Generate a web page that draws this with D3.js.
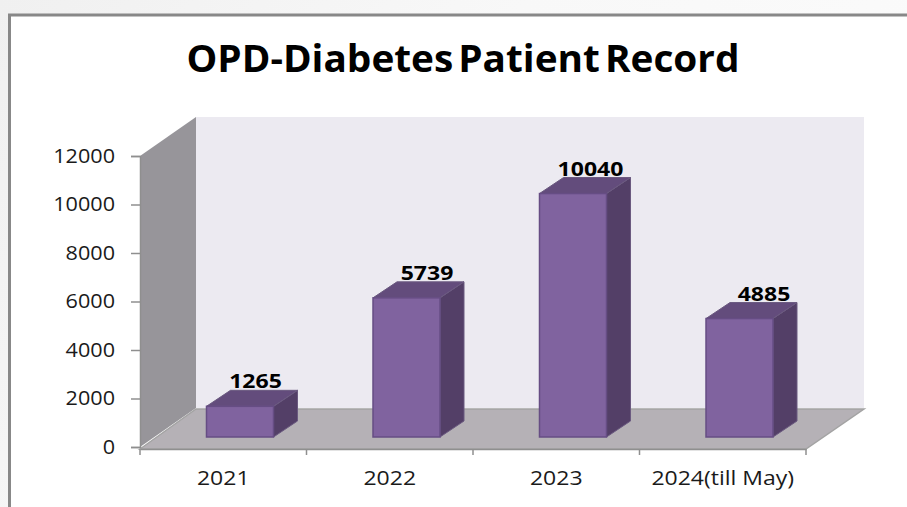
<!DOCTYPE html>
<html lang="en">
<head>
<meta charset="UTF-8">
<title>OPD-Diabetes Patient Record</title>
<style>
    html, body { margin: 0; padding: 0; background: #fff; overflow: hidden; }
    svg { display: block; }
    text { fill: #1a1a1a; }
</style>
</head>
<body>
<div id="chart"></div>
<script src="https://d3js.org/d3.v7.min.js"></script>
<script>
const categories = ["2021", "2022", "2023", "2024(till May)"];
const patients = [1265, 5739, 10040, 4885];
const valueTicks = [0, 2000, 4000, 6000, 8000, 10000, 12000];
const chartTitle = "OPD-Diabetes Patient Record";

const W = 907, H = 507;
const FONT = "'Open Sans', sans-serif";
const svg = d3.select("#chart").append("svg").attr("width", W).attr("height", H);

// the reference text is wider than any installed font, so stretch it
function stretch(sel, k) {
    sel.each(function () {
        d3.select(this).attr("textLength", this.getComputedTextLength() * k)
            .attr("lengthAdjust", "spacingAndGlyphs");
    });
}

// page background and frame
const defs = svg.append("defs");
const bg = defs.append("linearGradient").attr("id", "bg").attr("x1", 0).attr("y1", 0).attr("x2", 1).attr("y2", 0.4);
bg.append("stop").attr("offset", "0%").attr("stop-color", "#f0f0f0");
bg.append("stop").attr("offset", "50%").attr("stop-color", "#f8f8f8");
bg.append("stop").attr("offset", "100%").attr("stop-color", "#fbfbfb");
svg.append("rect").attr("width", W).attr("height", H).attr("fill", "url(#bg)");
svg.append("rect").attr("x", 9.5).attr("y", 15).attr("width", W).attr("height", H)
    .attr("fill", "#fff").attr("stroke", "#888").attr("stroke-width", 3);

svg.append("text").attr("x", 463).attr("y", 72).attr("text-anchor", "middle")
    .attr("font-family", FONT).attr("font-weight", 700)
    .attr("font-size", 38).attr("word-spacing", -5).attr("textLength", 553).attr("lengthAdjust", "spacingAndGlyphs")
    .style("fill", "#000").text(chartTitle);

// scales for the front plane of the 3D box
const x = d3.scaleBand().domain(categories).range([140, 806]);
const y = d3.scaleLinear().domain([0, 12000]).range([447, 156]);
const depthX = 56, depthY = -39;      // wall offset
const barDepthX = 24, barDepthY = -16; // bar offset
const barW = 67, barInset = 66.5, barLift = 10;
const labelNudge = [49, 54, 51, 58];  // data labels are not centred evenly

const poly = pts => pts.map(p => p.join(",")).join(" ");
const [x0, x1] = x.range();
const yTop = y(12000), yBase = y(0);

// back wall, side wall, floor
svg.append("polygon").attr("fill", "#eceaf1")
    .attr("points", poly([[x0 + depthX, yTop + depthY], [x1 + depthX + 2, yTop + depthY], [x1 + depthX + 2, yBase + depthY], [x0 + depthX, yBase + depthY]]));
svg.append("polygon").attr("fill", "#97959a")
    .attr("points", poly([[x0, yTop], [x0 + depthX, yTop + depthY], [x0 + depthX, yBase + depthY], [x0, yBase]]));
svg.append("polygon").attr("fill", "#b5b1b6").attr("stroke", "#a3a3a3").attr("stroke-width", 1.5)
    .attr("points", poly([[x0, yBase + 2], [x0 + depthX, yBase + depthY + 1], [x1 + depthX + 2, yBase + depthY + 1], [x1, yBase + 2]]));

// axes
const yAxis = svg.append("g").attr("transform", `translate(${x0},0)`)
    .call(d3.axisLeft(y).tickValues(valueTicks).tickFormat(d3.format("d")).tickSize(9).tickPadding(16));
const xAxis = svg.append("g").attr("transform", `translate(0,${yBase + 2})`)
    .call(d3.axisBottom(x).tickSize(0).tickPadding(22));
[yAxis, xAxis].forEach(a => {
    a.select(".domain").attr("stroke", "#8f8f8f").attr("stroke-width", 1.5);
    a.selectAll("line").attr("stroke", "#8f8f8f").attr("stroke-width", 1.5);
    a.selectAll("text").attr("font-family", FONT).attr("font-size", 20).style("fill", "#1a1a1a");
});
stretch(yAxis.selectAll("text"), 1.08);
stretch(xAxis.selectAll("text"), 1.15);

// ticks between the categories
svg.append("g").selectAll("line").data(d3.range(categories.length + 1)).join("line")
    .attr("x1", i => x0 + i * x.step()).attr("x2", i => x0 + i * x.step())
    .attr("y1", yBase + 2).attr("y2", yBase + 8)
    .attr("stroke", "#8f8f8f").attr("stroke-width", 1.5);

// bars
const bars = svg.append("g").selectAll("g").data(categories).join("g");
const bx = c => x(c) + barInset;
const bBase = yBase - barLift;
const bTop = (i) => bBase - (yBase - y(patients[i]));

bars.append("polygon").attr("fill", "#533f67").attr("stroke", "#6b5a80").attr("stroke-width", 1)
    .attr("points", (c, i) => poly([
        [bx(c) + barW, bTop(i)], [bx(c) + barW + barDepthX, bTop(i) + barDepthY],
        [bx(c) + barW + barDepthX, bBase + barDepthY], [bx(c) + barW, bBase]]));
bars.append("polygon").attr("fill", "#634c7c").attr("stroke", "#6b5a80").attr("stroke-width", 1)
    .attr("points", (c, i) => poly([
        [bx(c), bTop(i)], [bx(c) + barDepthX, bTop(i) + barDepthY],
        [bx(c) + barW + barDepthX, bTop(i) + barDepthY], [bx(c) + barW, bTop(i)]]));
bars.append("rect").attr("fill", "#80639f").attr("stroke", "#664d84").attr("stroke-width", 1.5)
    .attr("x", c => bx(c)).attr("y", (c, i) => bTop(i))
    .attr("width", barW).attr("height", (c, i) => bBase - bTop(i));

const valueLabels = bars.append("text").attr("text-anchor", "middle")
    .attr("x", (c, i) => bx(c) + labelNudge[i]).attr("y", (c, i) => bTop(i) + barDepthY - 2)
    .attr("font-family", FONT).attr("font-weight", 700).attr("font-size", 20)
    .style("fill", "#000").text((c, i) => patients[i]);
stretch(valueLabels, 1.15);
</script>
</body>
</html>
